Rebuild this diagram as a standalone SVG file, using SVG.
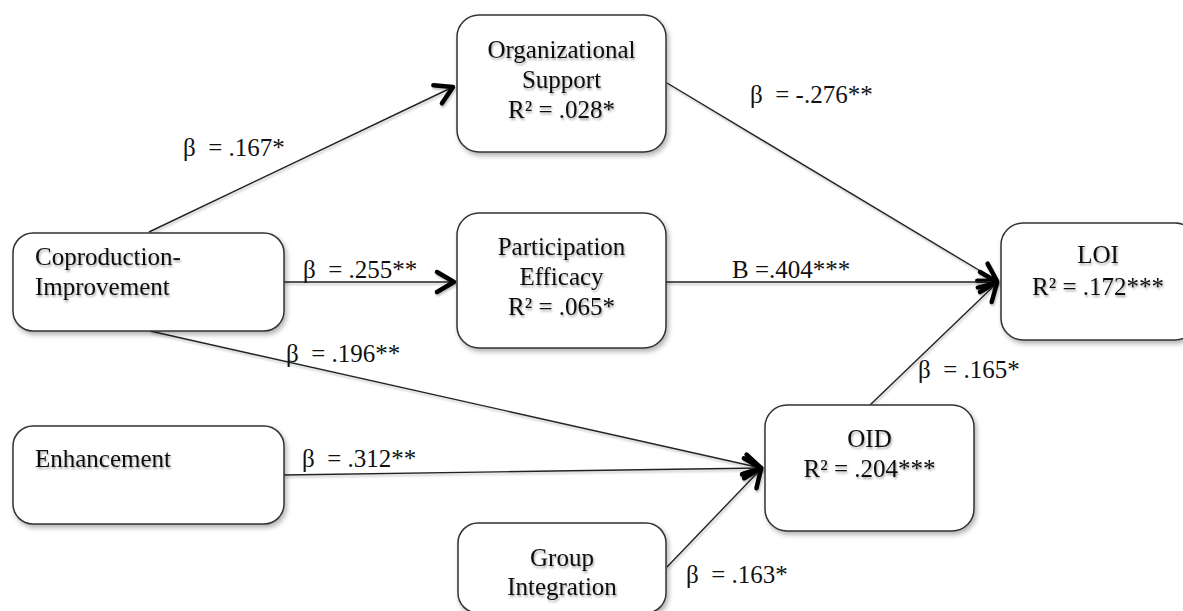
<svg xmlns="http://www.w3.org/2000/svg" width="1183" height="611" viewBox="0 0 1183 611">
<style>
.box{fill:#fff;stroke:#333;stroke-width:1.5;filter:url(#sh)}
.t{font-family:"Liberation Serif","Times New Roman",serif;font-size:25px;fill:#111;white-space:pre}
.c{text-anchor:middle}
.bt{filter:url(#tsh)}
.ln{stroke:#222;stroke-width:1.4;fill:none;marker-end:url(#ah);filter:url(#lsh)}
</style>
<defs>
<filter id="sh" x="-10%" y="-10%" width="130%" height="130%"><feDropShadow dx="2" dy="3" stdDeviation="2.5" flood-color="#000" flood-opacity="0.3"/></filter>
<filter id="tsh" x="-10%" y="-30%" width="130%" height="170%"><feDropShadow dx="1" dy="2" stdDeviation="1.3" flood-color="#000" flood-opacity="0.35"/></filter>
<filter id="lsh" filterUnits="userSpaceOnUse" x="0" y="0" width="1183" height="611"><feDropShadow dx="1" dy="2" stdDeviation="1.2" flood-color="#000" flood-opacity="0.25"/></filter>
<marker id="ah" markerUnits="userSpaceOnUse" markerWidth="30" markerHeight="30" refX="20" refY="15" orient="auto" overflow="visible">
<path d="M3,5 L20,15 L3,25" fill="none" stroke="#000" stroke-width="4.5" stroke-linecap="round" stroke-linejoin="round"/>
</marker>
</defs>
<g id="connectors">
<path class="ln" d="M149,232 L453,87"/>
<path class="ln" d="M284,282 L454,282"/>
<path class="ln" d="M150,331 L761,468"/>
<path class="ln" d="M284,475 L761,468"/>
<path class="ln" d="M667,567 L761,469"/>
<path class="ln" d="M667,83 L997,281"/>
<path class="ln" d="M666,282 L997,282"/>
<path class="ln" d="M870,405 L997,283"/>
</g>
<g id="labels">
<text class="t" x="183" y="156">β  = .167*</text>
<text class="t" x="750" y="103">β  = -.276**</text>
<text class="t" x="303" y="278">β  = .255**</text>
<text class="t" x="732" y="278">B =.404***</text>
<text class="t" x="286" y="362">β  = .196**</text>
<text class="t" x="918" y="378">β  = .165*</text>
<text class="t" x="302" y="467">β  = .312**</text>
<text class="t" x="686" y="583">β  = .163*</text>
</g>
<g id="org-support">
<rect class="box" x="457" y="15" width="209" height="137" rx="22"/>
<text class="t c bt" x="561.5" y="58">Organizational</text>
<text class="t c bt" x="561.5" y="88">Support</text>
<text class="t c bt" x="561.5" y="118">R² = .028*</text>
</g>
<g id="participation-efficacy">
<rect class="box" x="457" y="213" width="209" height="135" rx="22"/>
<text class="t c bt" x="561.5" y="255">Participation</text>
<text class="t c bt" x="561.5" y="285">Efficacy</text>
<text class="t c bt" x="561.5" y="315">R² = .065*</text>
</g>
<g id="coproduction-improvement">
<rect class="box" x="13" y="233" width="271" height="98" rx="20"/>
<text class="t bt" x="35" y="265">Coproduction-</text>
<text class="t bt" x="35" y="295">Improvement</text>
</g>
<g id="enhancement">
<rect class="box" x="13" y="426" width="271" height="98" rx="20"/>
<text class="t bt" x="35" y="467">Enhancement</text>
</g>
<g id="group-integration">
<rect class="box" x="458" y="523" width="208" height="90" rx="20"/>
<text class="t c bt" x="562" y="566">Group</text>
<text class="t c bt" x="562" y="595">Integration</text>
</g>
<g id="oid">
<rect class="box" x="765" y="405" width="209" height="126" rx="22"/>
<text class="t c bt" x="869.5" y="447">OID</text>
<text class="t c bt" x="869.5" y="477">R² = .204***</text>
</g>
<g id="loi">
<rect class="box" x="1001" y="223" width="196" height="117" rx="22"/>
<text class="t c bt" x="1098" y="263">LOI</text>
<text class="t c bt" x="1098" y="295">R² = .172***</text>
</g>
</svg>
